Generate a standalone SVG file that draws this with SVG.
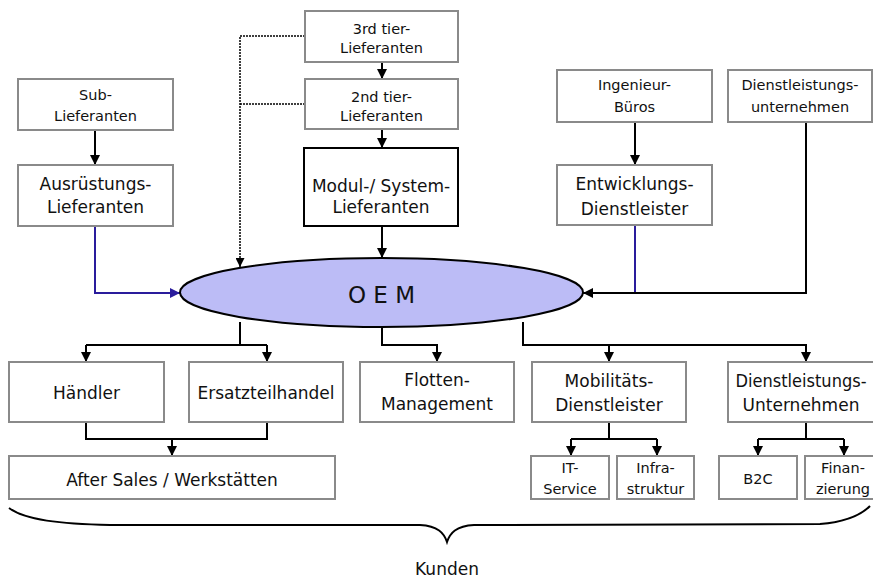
<svg xmlns="http://www.w3.org/2000/svg" width="873" height="578" viewBox="0 0 873 578">
<defs>
<style>
.box{fill:#fff;stroke:#8a8a8a;stroke-width:2}
.bold{fill:#fff;stroke:#000;stroke-width:2}
.t{font-family:"DejaVu Sans",Verdana,sans-serif;font-size:14.5px;fill:#111;text-anchor:middle}
.L{font-size:17px}
.c{fill:none;stroke:#000;stroke-width:2}
.blue{fill:none;stroke:#2a1c9c;stroke-width:2}
.dot{fill:none;stroke:#000;stroke-width:1.5;stroke-dasharray:2 1}
</style>
<marker id="ah" viewBox="0 0 10 10" refX="10" refY="5" markerWidth="5" markerHeight="5" orient="auto" markerUnits="strokeWidth"><path d="M0,0 L10,5 L0,10 z" fill="#000"/></marker>
<marker id="ahd" viewBox="0 0 10 10" refX="10" refY="5" markerWidth="6" markerHeight="6" orient="auto" markerUnits="strokeWidth"><path d="M0,0 L10,5 L0,10 z" fill="#000"/></marker>
<marker id="ahb" viewBox="0 0 10 10" refX="10" refY="5" markerWidth="5" markerHeight="5" orient="auto" markerUnits="strokeWidth"><path d="M0,0 L10,5 L0,10 z" fill="#2a1c9c"/></marker>
</defs>
<rect width="873" height="578" fill="#fff"/>

<g id="connectors">
<path class="c" d="M95,130 V165" marker-end="url(#ah)"/>
<path class="blue" d="M95,226 V293 H180" marker-end="url(#ahb)"/>
<path class="dot" d="M305,36 H240 V267" marker-end="url(#ahd)"/>
<path class="dot" d="M305,104 H240"/>
<path class="c" d="M382,62 V79" marker-end="url(#ah)"/>
<path class="c" d="M382,129 V148" marker-end="url(#ah)"/>
<path class="c" d="M382,226 V258" stroke-width="2.5" marker-end="url(#ah)"/>
<path class="c" d="M635,122 V165" marker-end="url(#ah)"/>
<path class="blue" d="M635,225 V293"/>
<path class="c" d="M806,122 V293 H583" marker-end="url(#ah)"/>
<path class="c" d="M240,322 V345 M86,345 H267"/>
<path class="c" d="M86,345 V362" marker-end="url(#ah)"/>
<path class="c" d="M267,345 V362" marker-end="url(#ah)"/>
<path class="c" d="M382,327 V345 H437 V362" marker-end="url(#ah)"/>
<path class="c" d="M523,322 V345 H806 V362" marker-end="url(#ah)"/>
<path class="c" d="M609,345 V362" marker-end="url(#ah)"/>
<path class="c" d="M86,422 V439 H267 V422 M172,439 V456" marker-end="url(#ah)"/>
<path class="c" d="M609,422 V439 M571,439 H657"/>
<path class="c" d="M571,439 V456" marker-end="url(#ah)"/>
<path class="c" d="M657,439 V456" marker-end="url(#ah)"/>
<path class="c" d="M806,422 V439 M758,439 H844"/>
<path class="c" d="M758,439 V456" marker-end="url(#ah)"/>
<path class="c" d="M844,439 V456" marker-end="url(#ah)"/>
</g>

<g id="oem">
<ellipse cx="381.5" cy="292.5" rx="201.5" ry="34.5" fill="#bcbcf6" stroke="#000" stroke-width="2"/>
<text class="t" x="381.5" y="303" style="font-size:23px">O E M</text>
</g>

<g id="sub-lieferanten"><rect class="box" x="18" y="79" width="155" height="51"/><text class="t" x="95.5" y="100">Sub-</text><text class="t" x="95.5" y="121">Lieferanten</text></g>
<g id="ausruestungs-lieferanten"><rect class="box" x="18" y="165" width="155" height="61"/><text class="t L" x="95.5" y="190">Ausrüstungs-</text><text class="t L" x="95.5" y="213">Lieferanten</text></g>
<g id="tier3"><rect class="box" x="305" y="11" width="153" height="51"/><text class="t" x="381.5" y="34">3rd tier-</text><text class="t" x="381.5" y="53">Lieferanten</text></g>
<g id="tier2"><rect class="box" x="305" y="79" width="153" height="50"/><text class="t" x="381.5" y="102">2nd tier-</text><text class="t" x="381.5" y="121">Lieferanten</text></g>
<g id="modul"><rect class="bold" x="304" y="148" width="154" height="78"/><text class="t L" x="381" y="192">Modul-/ System-</text><text class="t L" x="381" y="213">Lieferanten</text></g>
<g id="ingenieur"><rect class="box" x="557" y="70" width="155" height="52"/><text class="t" x="634.5" y="90">Ingenieur-</text><text class="t" x="634.5" y="112">Büros</text></g>
<g id="dienstleistungsunternehmen-top"><rect class="box" x="728" y="70" width="144" height="52"/><text class="t" x="800" y="90">Dienstleistungs-</text><text class="t" x="800" y="112">unternehmen</text></g>
<g id="entwicklungs"><rect class="box" x="557" y="165" width="155" height="60"/><text class="t L" x="634.5" y="190">Entwicklungs-</text><text class="t L" x="634.5" y="215">Dienstleister</text></g>

<g id="haendler"><rect class="box" x="9" y="362" width="155" height="60"/><text class="t L" x="86.5" y="399">Händler</text></g>
<g id="ersatzteilhandel"><rect class="box" x="189" y="362" width="154" height="60"/><text class="t L" x="266" y="399">Ersatzteilhandel</text></g>
<g id="flotten"><rect class="box" x="360" y="362" width="154" height="60"/><text class="t L" x="437" y="386">Flotten-</text><text class="t L" x="437" y="410">Management</text></g>
<g id="mobilitaet"><rect class="box" x="532" y="362" width="154" height="60"/><text class="t L" x="609" y="387">Mobilitäts-</text><text class="t L" x="609" y="411">Dienstleister</text></g>
<g id="dienstleistungs-unternehmen"><rect class="box" x="728" y="362" width="146" height="60"/><text class="t L" x="801" y="387" textLength="131" lengthAdjust="spacingAndGlyphs">Dienstleistungs-</text><text class="t L" x="801" y="411">Unternehmen</text></g>
<g id="after-sales"><rect class="box" x="9" y="456" width="326" height="43"/><text class="t L" x="172" y="486">After Sales / Werkstätten</text></g>
<g id="it-service"><rect class="box" x="531" y="456" width="78" height="43"/><text class="t" x="570" y="473">IT-</text><text class="t" x="570" y="494">Service</text></g>
<g id="infrastruktur"><rect class="box" x="617" y="456" width="77" height="43"/><text class="t" x="655.5" y="473">Infra-</text><text class="t" x="655.5" y="494">struktur</text></g>
<g id="b2c"><rect class="box" x="719" y="456" width="78" height="43"/><text class="t" x="758" y="484">B2C</text></g>
<g id="finanzierung"><rect class="box" x="805" y="456" width="70" height="43"/><text class="t" x="843" y="473">Finan-</text><text class="t" x="843" y="494">zierung</text></g>

<g id="kunden">
<path class="c" d="M9,508 C25,520 60,524 110,525 L420,525 C438,526 444,533 447,542 C450,533 456,526 474,525 L820,524 C845,522 860,516 870,506"/>
<text class="t L" x="447" y="575">Kunden</text>
</g>
</svg>
